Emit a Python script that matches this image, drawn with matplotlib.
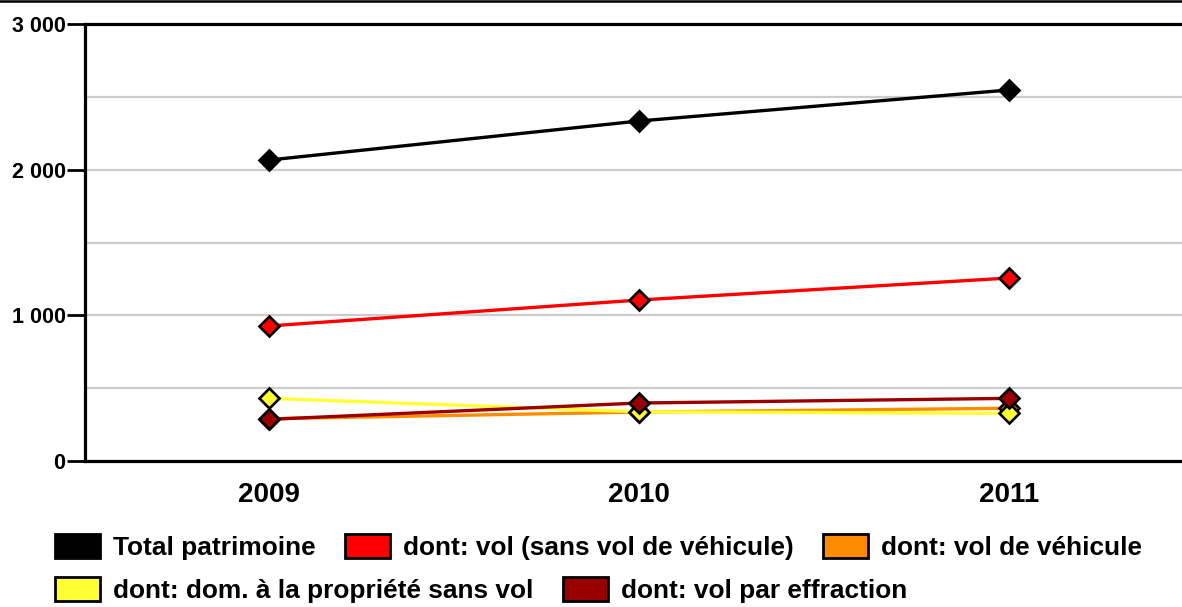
import numpy as np
import matplotlib.pyplot as plt
from matplotlib.patches import Patch
from matplotlib.lines import Line2D

plt.rcParams['font.family'] = ['Liberation Sans', 'DejaVu Sans']
plt.rcParams['font.weight'] = 'bold'

years = ['2009', '2010', '2011']
total = [2066, 2334, 2547]
vol = [927, 1105, 1256]
vehicule = [290, 336, 362]
dom = [430, 338, 327]
effraction = [286, 398, 430]

labels = ['Total patrimoine', 'dont: vol (sans vol de véhicule)', 'dont: vol de véhicule',
          'dont: dom. à la propriété sans vol', 'dont: vol par effraction']
colors = ['#000000', '#ff0000', '#ff8c00', '#ffff33', '#9b0000']
series = [total, vol, vehicule, dom, effraction]

fig = plt.figure(figsize=(11.82, 6.07), dpi=100)
ax = fig.add_axes([85 / 1182, 146 / 607, 1 - 85 / 1182, 437 / 607])

x = np.arange(len(years))
for vals, col in zip(series, colors):
    ax.plot(x, vals, color=col, lw=2.4, marker='D', ms=10,
            mfc=col, mec='black', mew=1.9)

ax.set_xlim(-0.497, 2.468)
ax.set_ylim(0, 3000)
ax.set_yticks([0, 1000, 2000, 3000])
ax.set_yticklabels(['0', '1 000', '2 000', '3 000'], fontsize=15.5, fontweight='bold')
ax.set_yticks([500, 1500, 2500], minor=True)
ax.set_xticks(x)
ax.set_xticklabels(years, fontsize=20, fontweight='bold')
ax.tick_params(axis='x', length=0, pad=15)
ax.tick_params(axis='y', which='major', length=13, width=2, pad=1)
ax.tick_params(axis='y', which='minor', length=0)
ax.grid(axis='y', which='both', color='#cccccc', lw=1.6)
ax.set_axisbelow(True)
for side in ['left', 'bottom', 'top']:
    ax.spines[side].set_linewidth(2.3)
ax.spines['right'].set_visible(False)

# thin frame line along the top of the figure
fig.add_artist(Line2D([0, 1], [0.998, 0.998], transform=fig.transFigure, color='black', lw=1.8))

handles = [Patch(facecolor=c, edgecolor='black', lw=2) for c in colors]
legend_kw = dict(frameon=False, loc='center left', borderpad=0, borderaxespad=0,
                 handlelength=1.72, handleheight=1.06, handletextpad=0.5,
                 columnspacing=1.1, prop={'size': 18.9, 'weight': 'bold'})
fig.legend(handles[:3], labels[:3], ncol=3, bbox_to_anchor=(55 / 1182, 1 - 547 / 607), **legend_kw)
fig.legend(handles[3:], labels[3:], ncol=2, bbox_to_anchor=(55 / 1182, 1 - 590 / 607), **legend_kw)

fig.savefig('out.png', dpi=100)
